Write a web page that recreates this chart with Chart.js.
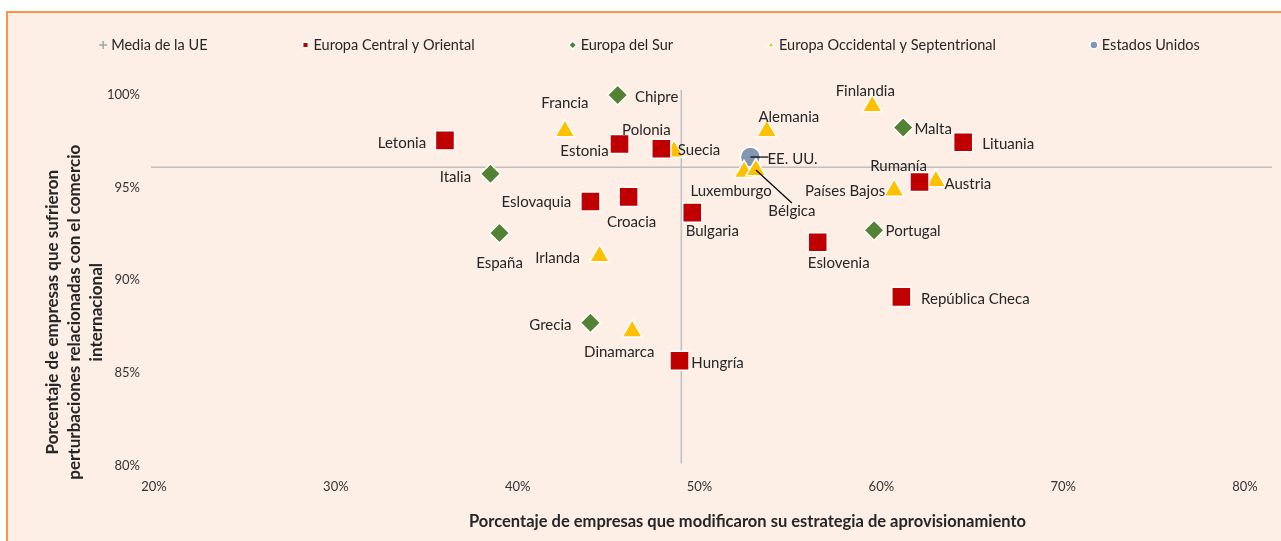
<!DOCTYPE html>
<html>
<head>
<meta charset="utf-8">
<script src="https://cdn.jsdelivr.net/npm/chart.js@4.4.0/dist/chart.umd.min.js"></script>
<style>
  body { margin: 0; background: #fff; }
  #box {
    position: absolute; left: 6px; top: 11px; width: 1275px; height: 530px;
    background: #FDEEE6; border-left: 2px solid #F79646; border-top: 2px solid #F79646;
  }
  canvas { display: block; }
</style>
</head>
<body>
<div id="box"><canvas id="chart" width="1273" height="528" style="width:1273px;height:528px"></canvas></div>
<script>
// values (percent)
const centralNames = ['Letonia', 'Estonia', 'Polonia', 'Croacia', 'Eslovaquia', 'Bulgaria', 'Hungría', 'Eslovenia', 'Rumanía', 'Lituania', 'República Checa'];
const centralX = [36.0, 45.6, 47.9, 46.1, 44.0, 49.6, 48.9, 56.5, 62.1, 64.5, 61.1];
const centralY = [97.55, 97.35, 97.1, 94.5, 94.25, 93.65, 85.65, 92.05, 95.3, 97.45, 89.1];

const surNames = ['Chipre', 'Italia', 'España', 'Grecia', 'Malta', 'Portugal'];
const surX = [45.5, 38.5, 39.0, 44.0, 61.2, 59.6];
const surY = [100.0, 95.75, 92.55, 87.7, 98.25, 92.7];

const occNames = ['Francia', 'Suecia', 'Irlanda', 'Dinamarca', 'Alemania', 'Finlandia', 'Luxemburgo', 'Bélgica', 'Países Bajos', 'Austria'];
const occX = [42.6, 48.6, 44.5, 46.3, 53.7, 59.5, 52.45, 53.1, 60.7, 63.0];
const occY = [98.05, 96.95, 91.3, 87.25, 98.05, 99.4, 95.85, 95.95, 94.85, 95.35];

const usaNames = ['EE. UU.'];
const usaX = [52.8];
const usaY = [96.65];

const meanX = [49.0];
const meanY = [96.1];

const xTicks = [20, 30, 40, 50, 60, 70, 80];
const yTicks = [80, 85, 90, 95, 100];

const seriesNames = ['Media de la UE', 'Europa Central y Oriental', 'Europa del Sur', 'Europa Occidental y Septentrional', 'Estados Unidos'];

// label placement around each marker (dx, dy of text centre) and optional leader line end
const labelPos = {
  'Letonia': [-43, 3], 'Estonia': [-35, 7], 'Polonia': [-15, -19], 'Croacia': [3, 25],
  'Eslovaquia': [-54, 1], 'Bulgaria': [20, 19], 'Hungría': [38, 2], 'Eslovenia': [21, 21],
  'Rumanía': [-21, -16], 'Lituania': [45, 2], 'República Checa': [74, 2],
  'Chipre': [39, 2], 'Italia': [-35, 3], 'España': [0, 30], 'Grecia': [-40, 2],
  'Malta': [30, 2], 'Portugal': [39, 1],
  'Francia': [0, -28], 'Suecia': [25, -1], 'Irlanda': [-42, 2], 'Dinamarca': [-13, 21],
  'Alemania': [22, -14], 'Finlandia': [-7, -15], 'Luxemburgo': [-13, 19], 'Bélgica': [36, 41],
  'Países Bajos': [-49, 1], 'Austria': [32, 3], 'EE. UU.': [42, 2]
};
const leaders = { 'Bélgica': [36, 33], 'EE. UU.': [18, 0] };

const FONT = 'Lato, "Noto Sans", sans-serif';

function toPoints(xs, ys) {
  return xs.map((x, i) => ({ x: x, y: ys[i] }));
}

const names = [[], centralNames, surNames, occNames, usaNames];

// draws the EU mean cross through the scales
const meanLines = {
  id: 'meanLines',
  beforeDatasetsDraw(chart) {
    const { ctx, chartArea, scales } = chart;
    const px = scales.x.getPixelForValue(meanX[0]);
    const py = scales.y.getPixelForValue(meanY[0]);
    ctx.save();
    ctx.strokeStyle = '#BFBFBF';
    ctx.lineWidth = 1.5;
    ctx.beginPath();
    ctx.moveTo(px, chartArea.top - 5);
    ctx.lineTo(px, chartArea.bottom - 2);
    ctx.moveTo(chartArea.left - 3, py);
    ctx.lineTo(chartArea.right + 27, py);
    ctx.stroke();
    ctx.restore();
  }
};

// country labels next to the markers
const pointLabels = {
  id: 'pointLabels',
  afterDatasetsDraw(chart) {
    const ctx = chart.ctx;
    ctx.save();
    ctx.font = '15px ' + FONT;
    ctx.fillStyle = '#262626';
    ctx.textAlign = 'center';
    ctx.textBaseline = 'middle';
    chart.data.datasets.forEach((ds, di) => {
      const meta = chart.getDatasetMeta(di);
      meta.data.forEach((el, i) => {
        const name = names[di][i];
        if (!name) return;
        const off = labelPos[name] || [0, -18];
        if (leaders[name]) {
          const l = leaders[name];
          ctx.strokeStyle = '#000';
          ctx.lineWidth = 1.2;
          ctx.beginPath();
          ctx.moveTo(el.x, el.y);
          ctx.lineTo(el.x + l[0], el.y + l[1]);
          ctx.stroke();
        }
        ctx.fillText(name, el.x + off[0], el.y + off[1]);
      });
    });
    ctx.restore();
  }
};

// legend row and axis titles
const extras = {
  id: 'extras',
  afterDraw(chart) {
    const { ctx, chartArea } = chart;
    ctx.save();
    // legend
    ctx.font = '14.5px ' + FONT;
    ctx.textBaseline = 'middle';
    ctx.textAlign = 'left';
    const gap = 98, mk = 8;
    const widths = seriesNames.map(t => mk + ctx.measureText(t).width);
    const total = widths.reduce((a, b) => a + b, 0) + gap * (widths.length - 1);
    let x = chart.width / 2 - total / 2 + 7;
    const y = 32;
    chart.data.datasets.forEach((ds, i) => {
      const style = i === 0 ? 'cross' : ds.pointStyle;
      ctx.fillStyle = i === 0 ? '#A6A6A6' : ds.backgroundColor;
      ctx.strokeStyle = i === 0 ? '#A6A6A6' : '#ffffff';
      Chart.helpers.drawPoint(ctx, { pointStyle: style, radius: 4, borderWidth: 1, rotation: 0 }, x, y);
      ctx.fillStyle = '#262626';
      ctx.fillText(seriesNames[i], x + mk, y);
      x += widths[i] + gap;
    });
    // x title
    ctx.font = 'bold 16.5px ' + FONT;
    ctx.textAlign = 'center';
    ctx.fillStyle = '#262626';
    ctx.fillText('Porcentaje de empresas que modificaron su estrategia de aprovisionamiento',
      (chartArea.left + chartArea.right) / 2 + 48, chartArea.bottom + 56);
    // y title
    ctx.font = 'bold 17px ' + FONT;
    const cy = (chartArea.top + chartArea.bottom) / 2 + 32;
    ctx.translate(chartArea.left - 80, cy);
    ctx.rotate(-Math.PI / 2);
    ['Porcentaje de empresas que sufrieron', 'perturbaciones relacionadas con el comercio', 'internacional']
      .forEach((t, k) => ctx.fillText(t, 0, -22 + k * 22));
    ctx.restore();
  }
};

new Chart(document.getElementById('chart'), {
  type: 'scatter',
  data: {
    datasets: [
      {
        label: seriesNames[0], data: toPoints(meanX, meanY), pointStyle: 'cross',
        pointRadius: 0, borderColor: '#A6A6A6', backgroundColor: '#A6A6A6'
      },
      {
        label: seriesNames[1], data: toPoints(centralX, centralY), pointStyle: 'rect',
        pointRadius: 13.5, backgroundColor: '#C00000', borderColor: '#ffffff', borderWidth: 1.5, clip: false
      },
      {
        label: seriesNames[2], data: toPoints(surX, surY), pointStyle: 'rectRot',
        pointRadius: 10, backgroundColor: '#548235', borderColor: '#ffffff', borderWidth: 1.5, clip: false
      },
      {
        label: seriesNames[3], data: toPoints(occX, occY), pointStyle: 'triangle',
        pointRadius: 11.5, backgroundColor: '#FFC000', borderColor: '#ffffff', borderWidth: 1.5, clip: false
      },
      {
        label: seriesNames[4], data: toPoints(usaX, usaY), pointStyle: 'circle',
        pointRadius: 10, backgroundColor: '#8497B0', borderColor: '#ffffff', borderWidth: 1.5, clip: false
      }
    ]
  },
  options: {
    responsive: false,
    animation: false,
    layout: { padding: { top: 82, right: 36, bottom: 32, left: 85 } },
    plugins: {
      legend: { display: false },
      tooltip: { enabled: false }
    },
    scales: {
      x: {
        type: 'linear', min: 20, max: 80,
        afterBuildTicks: (s) => { s.ticks = xTicks.map(v => ({ value: v })); },
        grid: { display: false, drawTicks: false },
        border: { display: false },
        ticks: { padding: 14, color: '#333', font: { family: FONT, size: 13 }, callback: v => v + '%' }
      },
      y: {
        type: 'linear', min: 80, max: 100,
        afterBuildTicks: (s) => { s.ticks = yTicks.map(v => ({ value: v })); },
        grid: { display: false, drawTicks: false },
        border: { display: false },
        ticks: { padding: 14, color: '#333', font: { family: FONT, size: 13 }, callback: v => v + '%' }
      }
    }
  },
  plugins: [meanLines, pointLabels, extras]
});
</script>
</body>
</html>
